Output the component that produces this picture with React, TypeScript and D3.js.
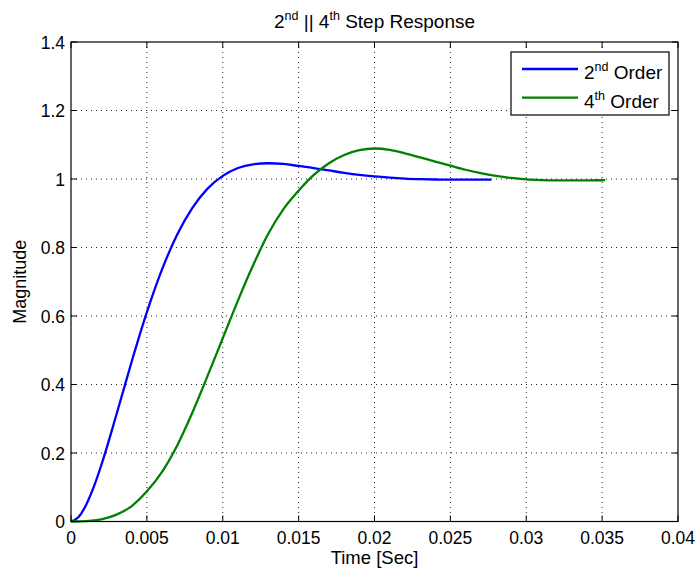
import React from "react";
import * as d3 from "d3";

const timeBlue = [0, 0.0005, 0.001, 0.0015, 0.002, 0.003, 0.004, 0.005, 0.006, 0.007, 0.008, 0.009, 0.010, 0.011, 0.012, 0.013, 0.014, 0.015, 0.016, 0.017, 0.018, 0.019, 0.020, 0.021, 0.022, 0.023, 0.024, 0.025, 0.026, 0.027, 0.0277];
const order2 = [0, 0.013, 0.049, 0.101, 0.165, 0.313, 0.467, 0.611, 0.736, 0.838, 0.916, 0.972, 1.009, 1.032, 1.043, 1.046, 1.044, 1.038, 1.032, 1.025, 1.018, 1.012, 1.0075, 1.004, 1.0013, 0.9996, 0.9985, 0.998, 0.9979, 0.998, 0.9982];

const timeGreen = [0, 0.001, 0.002, 0.003, 0.004, 0.005, 0.006, 0.007, 0.008, 0.009, 0.010, 0.011, 0.012, 0.013, 0.014, 0.015, 0.016, 0.017, 0.018, 0.019, 0.020, 0.021, 0.022, 0.023, 0.024, 0.025, 0.026, 0.027, 0.028, 0.029, 0.030, 0.031, 0.032, 0.033, 0.034, 0.0352];
const order4 = [0, 0.001, 0.006, 0.02, 0.045, 0.088, 0.145, 0.222, 0.318, 0.425, 0.535, 0.645, 0.748, 0.84, 0.912, 0.966, 1.012, 1.046, 1.07, 1.084, 1.089, 1.085, 1.075, 1.063, 1.051, 1.039, 1.027, 1.017, 1.009, 1.003, 0.999, 0.997, 0.996, 0.9958, 0.996, 0.9965];

const xTicks = [0, 0.005, 0.01, 0.015, 0.02, 0.025, 0.03, 0.035, 0.04];
const xTickLabels = ["0", "0.005", "0.01", "0.015", "0.02", "0.025", "0.03", "0.035", "0.04"];
const yTicks = [0, 0.2, 0.4, 0.6, 0.8, 1, 1.2, 1.4];
const yTickLabels = ["0", "0.2", "0.4", "0.6", "0.8", "1", "1.2", "1.4"];

const FONT = "'Liberation Sans', Arial, Helvetica, sans-serif";

export default function App() {
  const W = 697, H = 571;
  const L = 71, R = 678, T = 42, B = 521.5;
  const x = d3.scaleLinear().domain([0, 0.04]).range([L, R]);
  const y = d3.scaleLinear().domain([0, 1.4]).range([B, T]);
  const line = d3.line<[number, number]>().x(d => x(d[0])).y(d => y(d[1])).curve(d3.curveMonotoneX);
  const blueData = timeBlue.map((t, i) => [t, order2[i]] as [number, number]);
  const greenData = timeGreen.map((t, i) => [t, order4[i]] as [number, number]);
  const tl = 6;
  const tickFs = 17.5;

  return (
    <svg width={W} height={H} style={{ display: "block", position: "absolute", left: 0, top: 0 }} fontFamily={FONT}>
      <rect x={0} y={0} width={W} height={H} fill="#fff" />
      {xTicks.slice(1, -1).map((t, i) => (
        <line key={"gx" + i} x1={x(t)} x2={x(t)} y1={T} y2={B} stroke="#222" strokeWidth={1} strokeDasharray="1,4" />
      ))}
      {yTicks.slice(1, -1).map((t, i) => (
        <line key={"gy" + i} x1={L} x2={R} y1={y(t)} y2={y(t)} stroke="#222" strokeWidth={1} strokeDasharray="1,4" />
      ))}
      {xTicks.map((t, i) => (
        <g key={"tx" + i}>
          <line x1={x(t)} x2={x(t)} y1={B} y2={B - tl} stroke="#000" />
          <line x1={x(t)} x2={x(t)} y1={T} y2={T + tl} stroke="#000" />
          <text x={x(t)} y={544} textAnchor="middle" fontSize={tickFs}>{xTickLabels[i]}</text>
        </g>
      ))}
      {yTicks.map((t, i) => (
        <g key={"ty" + i}>
          <line x1={L} x2={L + tl} y1={y(t)} y2={y(t)} stroke="#000" />
          <line x1={R} x2={R - tl} y1={y(t)} y2={y(t)} stroke="#000" />
          <text x={65} y={y(t) + 6.5} textAnchor="end" fontSize={tickFs}>{yTickLabels[i]}</text>
        </g>
      ))}
      <path d={line(blueData) || ""} fill="none" stroke="#0000ff" strokeWidth={2.3} />
      <path d={line(greenData) || ""} fill="none" stroke="#008000" strokeWidth={2.3} />
      <rect x={L} y={T} width={R - L} height={B - T} fill="none" stroke="#000" strokeWidth={1.2} />
      <text x={(L + R) / 2} y={27.5} textAnchor="middle" fontSize={19}>
        <tspan>2</tspan><tspan fontSize={12.5} dy={-8}>nd</tspan><tspan dy={8}> || 4</tspan><tspan fontSize={12.5} dy={-8}>th</tspan><tspan dy={8}> Step Response</tspan>
      </text>
      <text x={(L + R) / 2} y={564} textAnchor="middle" fontSize={18.5}>Time [Sec]</text>
      <text transform={`translate(25.5,${(T + B) / 2}) rotate(-90)`} textAnchor="middle" fontSize={18}>Magnitude</text>
      <rect x={511} y={52} width={158} height={63} fill="#fff" stroke="#000" strokeWidth={1.2} />
      <line x1={522} x2={578} y1={69} y2={69} stroke="#0000ff" strokeWidth={2.3} />
      <line x1={522} x2={578} y1={97.7} y2={97.7} stroke="#008000" strokeWidth={2.3} />
      <text x={584} y={79.3} fontSize={19}>
        <tspan>2</tspan><tspan fontSize={12.5} dy={-8}>nd</tspan><tspan dy={8}> Order</tspan>
      </text>
      <text x={584} y={108.3} fontSize={19}>
        <tspan>4</tspan><tspan fontSize={12.5} dy={-8}>th</tspan><tspan dy={8}> Order</tspan>
      </text>
    </svg>
  );
}
